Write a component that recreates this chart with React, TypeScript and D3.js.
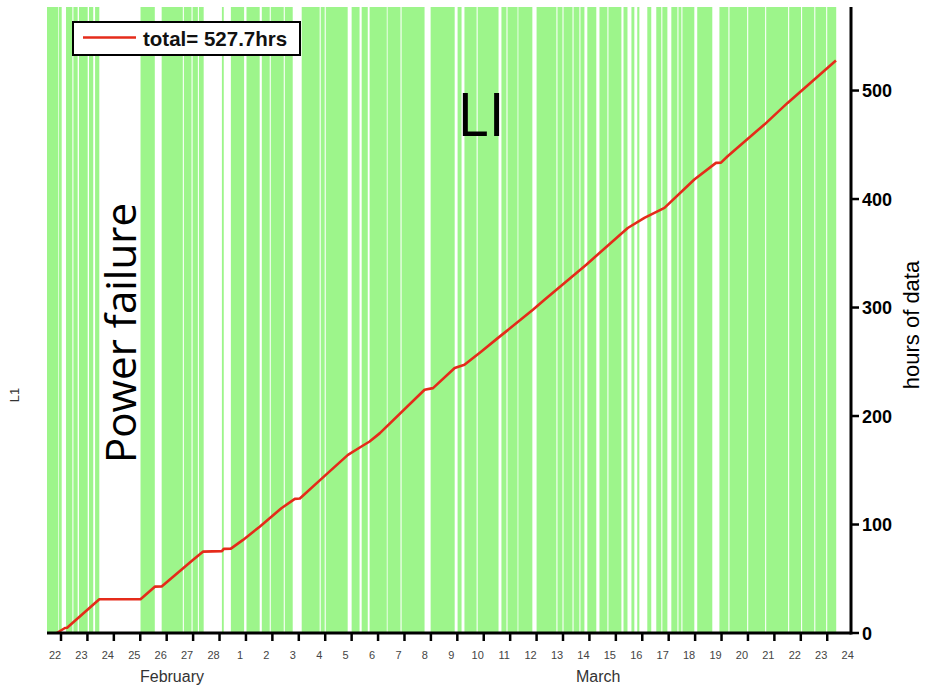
import React from "react";
import * as d3 from "d3";

// Day tick labels (index = days since Feb 22, 00:00)
const dayLabels = ["22","23","24","25","26","27","28","1","2","3","4","5","6","7","8","9","10","11","12","13","14","15","16","17","18","19","20","21","22","23","24"];
const monthNames = ["February", "March"];
const monthCenterDays = [4.2, 20.33];
const hourTicks = [0, 100, 200, 300, 400, 500];

// Data coverage (days since Feb 22 00:00)
const coverageStart = -0.53;
const coverageEnd = 29.34;
const gapStarts = [-0.10,0.026,0.43,0.63,1.01,1.22,1.45,3.55,4.61,4.94,5.18,5.40,6.16,6.93,7.52,7.90,8.43,8.77,9.79,9.98,10.85,11.30,11.61,12.33,12.85,13.76,14.90,15.16,15.73,16.56,16.86,17.28,17.84,18.75,18.98,19.36,19.62,19.81,20.26,20.68,21.21,21.44,21.70,21.89,22.34,22.72,22.95,23.33,23.48,23.97,24.65,25.26,25.97,26.65,27.52,28.01,28.51,28.96];
const gapEnds   = [-0.076,0.19,0.47,0.68,1.06,1.29,3.01,3.81,4.65,4.98,5.22,6.09,6.43,7.02,7.60,7.94,8.47,9.11,9.83,10.02,11.00,11.38,11.68,12.36,12.89,13.99,15.01,15.27,15.77,16.67,16.90,17.31,18.00,18.79,19.02,19.40,19.66,19.92,20.38,20.72,21.29,21.59,21.81,22.19,22.53,22.76,23.10,23.37,23.52,24.08,24.92,25.30,26.01,26.69,27.56,28.05,28.55,29.00];

// Cumulative hours of data
const lineDays  = [-0.16,0.15,0.23,1.45,3.01,3.55,3.81,4.99,5.37,6.09,6.16,6.43,6.89,7.52,8.34,8.85,9.04,9.98,10.86,11.37,11.68,12.06,13.76,14.08,14.90,15.27,15.91,16.53,16.85,17.86,18.30,19.88,21.45,22.08,22.84,23.97,24.79,24.98,25.23,26.62,27.50,29.33];
const lineHours = [0,4.6,4.8,31.1,31.1,42.7,42.9,67.3,75,75.5,77.5,77.8,85.8,98,115,123.6,124,144.8,164.2,171.9,176.5,184,224.2,225.7,244.2,247.2,259.5,271.8,278,298,307.2,339.5,373.3,382.6,391.8,418,433.3,433.5,439.4,468.6,488.6,527.7];

const legendLabel = "total= 527.7hrs";

export default function App() {
  const W = 925, H = 688;
  const left = 47, right = 851, top = 7, bottom = 633;
  const x = d3.scaleLinear().domain([-0.53, 29.9]).range([left, right]);
  const y = d3.scaleLinear().domain([0, 577]).range([bottom, top]);

  // green segments = coverage minus gaps
  const segs: [number, number][] = [];
  let cur = coverageStart;
  gapStarts.forEach((gs, i) => {
    if (gs > cur) segs.push([cur, gs]);
    cur = Math.max(cur, gapEnds[i]);
  });
  if (coverageEnd > cur) segs.push([cur, coverageEnd]);

  const line = d3.line<number>().x((_, i) => x(lineDays[i])).y((d) => y(d));
  const font = "'Liberation Sans', Arial, sans-serif";

  return (
    <svg width={W} height={H} style={{ position: "absolute", left: 0, top: 0, background: "#fff" }}>
      <g>
        {segs.map((s, i) => (
          <rect key={i} x={x(s[0])} y={top} width={Math.max(0.6, x(s[1]) - x(s[0]))} height={bottom - top} fill="#9df58b" />
        ))}
      </g>
      <path d={line(lineHours) || ""} fill="none" stroke="#e52b1a" strokeWidth={2.6} strokeLinejoin="round" />

      {/* bottom axis */}
      <line x1={left} x2={right} y1={bottom} y2={bottom} stroke="#000" strokeWidth={3} />
      {dayLabels.map((lab, i) => (
        <g key={i}>
          {i < 30 && <line x1={x(i)} x2={x(i)} y1={bottom} y2={bottom + 8} stroke="#000" strokeWidth={2.5} />}
          <text x={x(i) - 6} y={659} fontSize={11} fill="#444" textAnchor="middle" fontFamily={font}>{lab}</text>
        </g>
      ))}
      {monthNames.map((m, i) => (
        <text key={m} x={x(monthCenterDays[i])} y={682} fontSize={16} fill="#333" textAnchor="middle" fontFamily={font}>{m}</text>
      ))}

      {/* right axis */}
      <line x1={right} x2={right} y1={top} y2={bottom + 1.5} stroke="#000" strokeWidth={3} />
      {hourTicks.map((t) => (
        <g key={t}>
          <line x1={right} x2={right + 8} y1={y(t)} y2={y(t)} stroke="#000" strokeWidth={2.5} />
          <text x={right + 11} y={y(t) + 6.5} fontSize={18} fontWeight="bold" fill="#000" fontFamily={font}>{t}</text>
        </g>
      ))}
      <text transform={`translate(919,${325}) rotate(-90)`} textAnchor="middle" fontSize={22} fill="#000" fontFamily={font}>hours of data</text>

      {/* left label */}
      <text transform={`translate(19,${395}) rotate(-90)`} textAnchor="middle" fontSize={13} fill="#333" fontFamily={font}>L1</text>

      {/* annotations */}
      <text transform={`translate(136,${333}) rotate(-90)`} textAnchor="middle" fontSize={42} fill="#000" fontFamily="'Open Sans', sans-serif">Power failure</text>
      <text x={481} y={136} textAnchor="middle" fontSize={60} fill="#000" fontFamily="'Open Sans', sans-serif">LI</text>

      {/* legend */}
      <rect x={73} y={22} width={227} height={33} fill="#fff" stroke="#000" strokeWidth={2} />
      <line x1={83} x2={136} y1={37.5} y2={37.5} stroke="#e52b1a" strokeWidth={2.6} />
      <text x={143} y={46} fontSize={20.5} fontWeight="bold" fill="#111" fontFamily={font}>{legendLabel}</text>
    </svg>
  );
}
